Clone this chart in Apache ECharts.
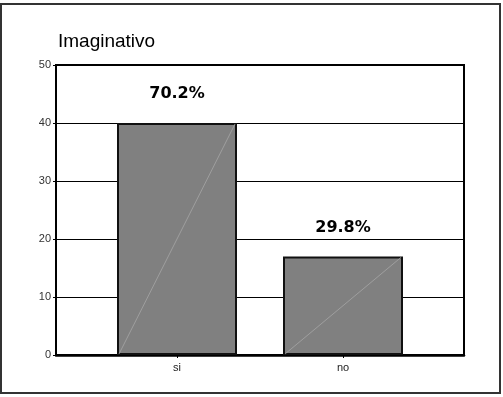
<!DOCTYPE html>
<html>
<head>
<meta charset="utf-8">
<script src="https://cdn.jsdelivr.net/npm/echarts@6/dist/echarts.min.js"></script>
<style>html,body{margin:0;padding:0;background:#fff;}#c{width:503px;height:397px;}</style>
</head>
<body>
<div id="c"></div>
<script>
var titleText = 'Imaginativo';
var categories = ['si', 'no'];
var values = [40, 17];
var pctLabels = ['70.2%', '29.8%'];
var yTicks = [0, 10, 20, 30, 40, 50];

var chart = echarts.init(document.getElementById('c'), null, {renderer: 'canvas'});
var BAR_W = 120;
chart.setOption({
  animation: false,
  backgroundColor: '#fff',
  title: {
    text: titleText, left: 53, top: 27,
    textStyle: {fontFamily: 'Liberation Sans', fontSize: 19, fontWeight: 'normal', color: '#000'}
  },
  graphic: [{
    type: 'rect', shape: {x: 1, y: 4, width: 499, height: 389},
    style: {fill: null, stroke: '#333', lineWidth: 2}, z: 10
  }],
  grid: [
    {left: 56, right: 39, top: 65, bottom: 42, show: true, borderColor: '#000', borderWidth: 2, backgroundColor: 'transparent'},
    {left: 94, right: 77, top: 65, bottom: 42}
  ],
  xAxis: [
    {gridIndex: 0, type: 'value', min: 0, max: 1,
     axisLine: {show: true, onZero: false, lineStyle: {color: '#000', width: 2.5}},
     axisTick: {show: false}, axisLabel: {show: false}, splitLine: {show: false}},
    {gridIndex: 1, type: 'category', data: categories,
     axisLine: {show: false}, axisTick: {show: true, alignWithLabel: true, length: 3, lineStyle: {color: '#000'}},
     axisLabel: {margin: 7, fontFamily: 'Liberation Sans', fontSize: 11, color: '#222'},
     splitLine: {show: false}}
  ],
  yAxis: [
    {gridIndex: 0, type: 'value', min: yTicks[0], max: yTicks[yTicks.length - 1], interval: 10,
     axisLine: {show: true, lineStyle: {color: '#000', width: 2}},
     axisTick: {show: true, length: 3, lineStyle: {color: '#000'}},
     axisLabel: {margin: 5, fontFamily: 'Liberation Sans', fontSize: 11, color: '#333'},
     splitLine: {show: true, lineStyle: {color: '#000', width: 1.2}}},
    {gridIndex: 1, type: 'value', min: yTicks[0], max: yTicks[yTicks.length - 1], interval: 10,
     show: false, splitLine: {show: false}}
  ],
  series: [
    {
      type: 'bar', xAxisIndex: 1, yAxisIndex: 1, data: values, barWidth: BAR_W,
      itemStyle: {color: '#808080', borderColor: '#111', borderWidth: 2},
      label: {
        show: true, position: 'top', distance: 21,
        formatter: function (p) { return pctLabels[p.dataIndex]; },
        fontFamily: 'DejaVu Sans', fontWeight: 'bold', fontSize: 16, color: '#000'
      }
    },
    {
      type: 'custom', xAxisIndex: 1, yAxisIndex: 1, z: 3, silent: true,
      data: values.map(function (v, i) { return [i, v]; }),
      renderItem: function (params, api) {
        var b = api.coord([api.value(0), 0]);
        var t = api.coord([api.value(0), api.value(1)]);
        var h = BAR_W / 2 - 2;
        return {type: 'line', shape: {x1: b[0] - h, y1: b[1] - 1, x2: t[0] + h, y2: t[1] + 1},
                style: {stroke: '#a6a6a6', lineWidth: 0.8}};
      }
    }
  ]
});
</script>
</body>
</html>
